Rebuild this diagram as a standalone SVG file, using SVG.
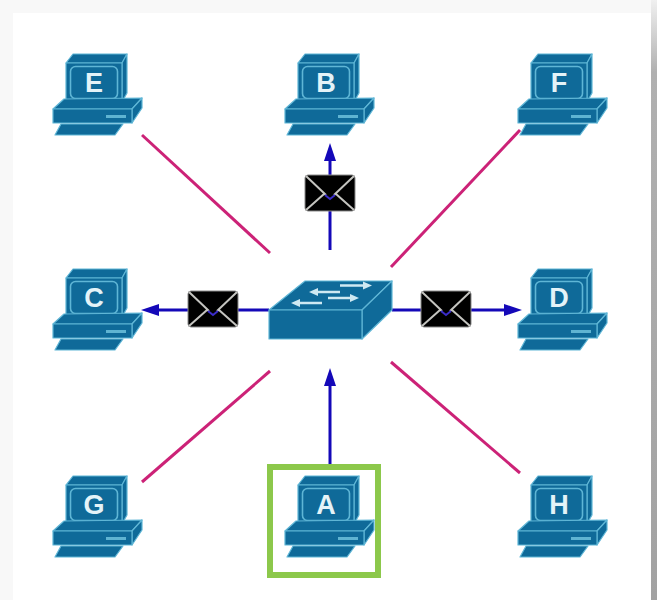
<svg xmlns="http://www.w3.org/2000/svg" width="657" height="600" viewBox="0 0 657 600">
<defs>
<linearGradient id="edge" x1="0" y1="0" x2="0" y2="1">
<stop offset="0" stop-color="#f0f0f0"/>
<stop offset="0.12" stop-color="#b0b0b0"/>
<stop offset="1" stop-color="#a2a2a2"/>
</linearGradient>
<style>
.d{fill:#0f6a99;stroke:#5fb6d6;stroke-width:1.2;stroke-linejoin:round}
.l{fill:none;stroke:#5fb6d6;stroke-width:1.6}
.t{font-family:"Liberation Sans",Arial,sans-serif;font-weight:700;font-size:27px;fill:#e4f3f8;text-anchor:middle}
.p{stroke:#cc2277;stroke-width:3;fill:none}
.b{stroke:#1408b8;stroke-width:3;fill:none}
.h{fill:#1408b8}
.a{stroke:#cfe9f2;stroke-width:2.500;fill:none}
.e{stroke:#c4c4c0;stroke-width:2;fill:none}
</style>
<symbol id="pc" overflow="visible" width="1" height="1">
<path class="d" d="M66 63 L73 54 L127 54 L122 63Z"/>
<path class="d" d="M122 63 L127 54 L127 93 L122 102Z"/>
<rect class="d" x="66" y="63" width="56" height="39"/>
<rect class="l" x="70.500" y="66.500" width="47" height="32" rx="5"/>
<path class="d" d="M53 109 L64 99 L142 98 L132 109Z"/>
<path class="d" d="M132 109 L142 98 L142 108 L132 123Z"/>
<rect class="d" x="53" y="109" width="79" height="14"/>
<rect x="106" y="115" width="20" height="3" fill="#5fb4d2"/>
<path class="d" d="M61 124 L123 124 L115 135 L55 135Z"/>
</symbol>
<symbol id="env" overflow="visible" width="1" height="1">
<rect x="0" y="0" width="50" height="36" rx="3" fill="#000" stroke="#8a8a8a" stroke-width="1"/>
<path class="e" d="M1 1 L21 20 M49 1 L29 20 M1 35 L19 19 M49 35 L31 19"/>
<path d="M20 20 L25 24 L30 20" fill="none" stroke="#3a2cc8" stroke-width="2"/>
</symbol>
</defs>
<rect width="657" height="600" fill="#f8f8f8"/>
<rect x="13" y="13" width="639" height="587" fill="#fff"/>
<rect x="651" y="0" width="6" height="600" fill="url(#edge)"/>
<g id="connectors">
<path class="p" d="M142 135 L270 253"/>
<path class="p" d="M520 130 L391 267"/>
<path class="p" d="M142 482 L270 371"/>
<path class="p" d="M520 473 L391 362"/>
<path class="b" d="M330 250 L330 155"/>
<path class="h" d="M330 143 L336 161 L324 161Z"/>
<path class="b" d="M269 310 L155 310"/>
<path class="h" d="M141 310 L159 304 L159 316Z"/>
<path class="b" d="M392 310 L508 310"/>
<path class="h" d="M522 310 L504 304 L504 316Z"/>
<path class="b" d="M330 464 L330 382"/>
<path class="h" d="M330 368 L336 386 L324 386Z"/>
</g>
<g id="switch">
<path class="d" d="M269 310 L305 281 L392 281 L362 310Z"/>
<path class="d" d="M362 310 L392 281 L392 310 L362 339Z"/>
<rect class="d" x="269" y="310" width="93" height="29"/>
<path class="a" d="M340 285.500 L366 285.500 M316 292 L340 292 M328 298 L352 298 M298 303 L322 303"/>
<path d="M372 285.500 L363 281.500 L363 289.500Z M309 292 L318 288 L318 296Z M359 298 L350 294 L350 302Z M291 303 L300 299 L300 307Z" fill="#cfe9f2"/>
</g>
<g id="node-e"><use href="#pc"/><text class="t" x="94" y="92">E</text></g>
<g id="node-b"><use href="#pc" x="232"/><text class="t" x="326" y="92">B</text></g>
<g id="node-f"><use href="#pc" x="465"/><text class="t" x="559" y="92">F</text></g>
<g id="node-c"><use href="#pc" y="215"/><text class="t" x="94" y="307">C</text></g>
<g id="node-d"><use href="#pc" x="465" y="215"/><text class="t" x="559" y="307">D</text></g>
<g id="node-g"><use href="#pc" y="422"/><text class="t" x="94" y="514">G</text></g>
<g id="node-a"><use href="#pc" x="232" y="422"/><text class="t" x="326" y="514">A</text>
<rect x="270" y="467" width="108" height="108" fill="none" stroke="#8cc84b" stroke-width="6"/></g>
<g id="node-h"><use href="#pc" x="465" y="422"/><text class="t" x="559" y="514">H</text></g>
<g id="msg-left"><use href="#env" x="188" y="291"/></g>
<g id="msg-right"><use href="#env" x="421" y="291"/></g>
<g id="msg-top"><use href="#env" x="305" y="175"/></g>
</svg>
